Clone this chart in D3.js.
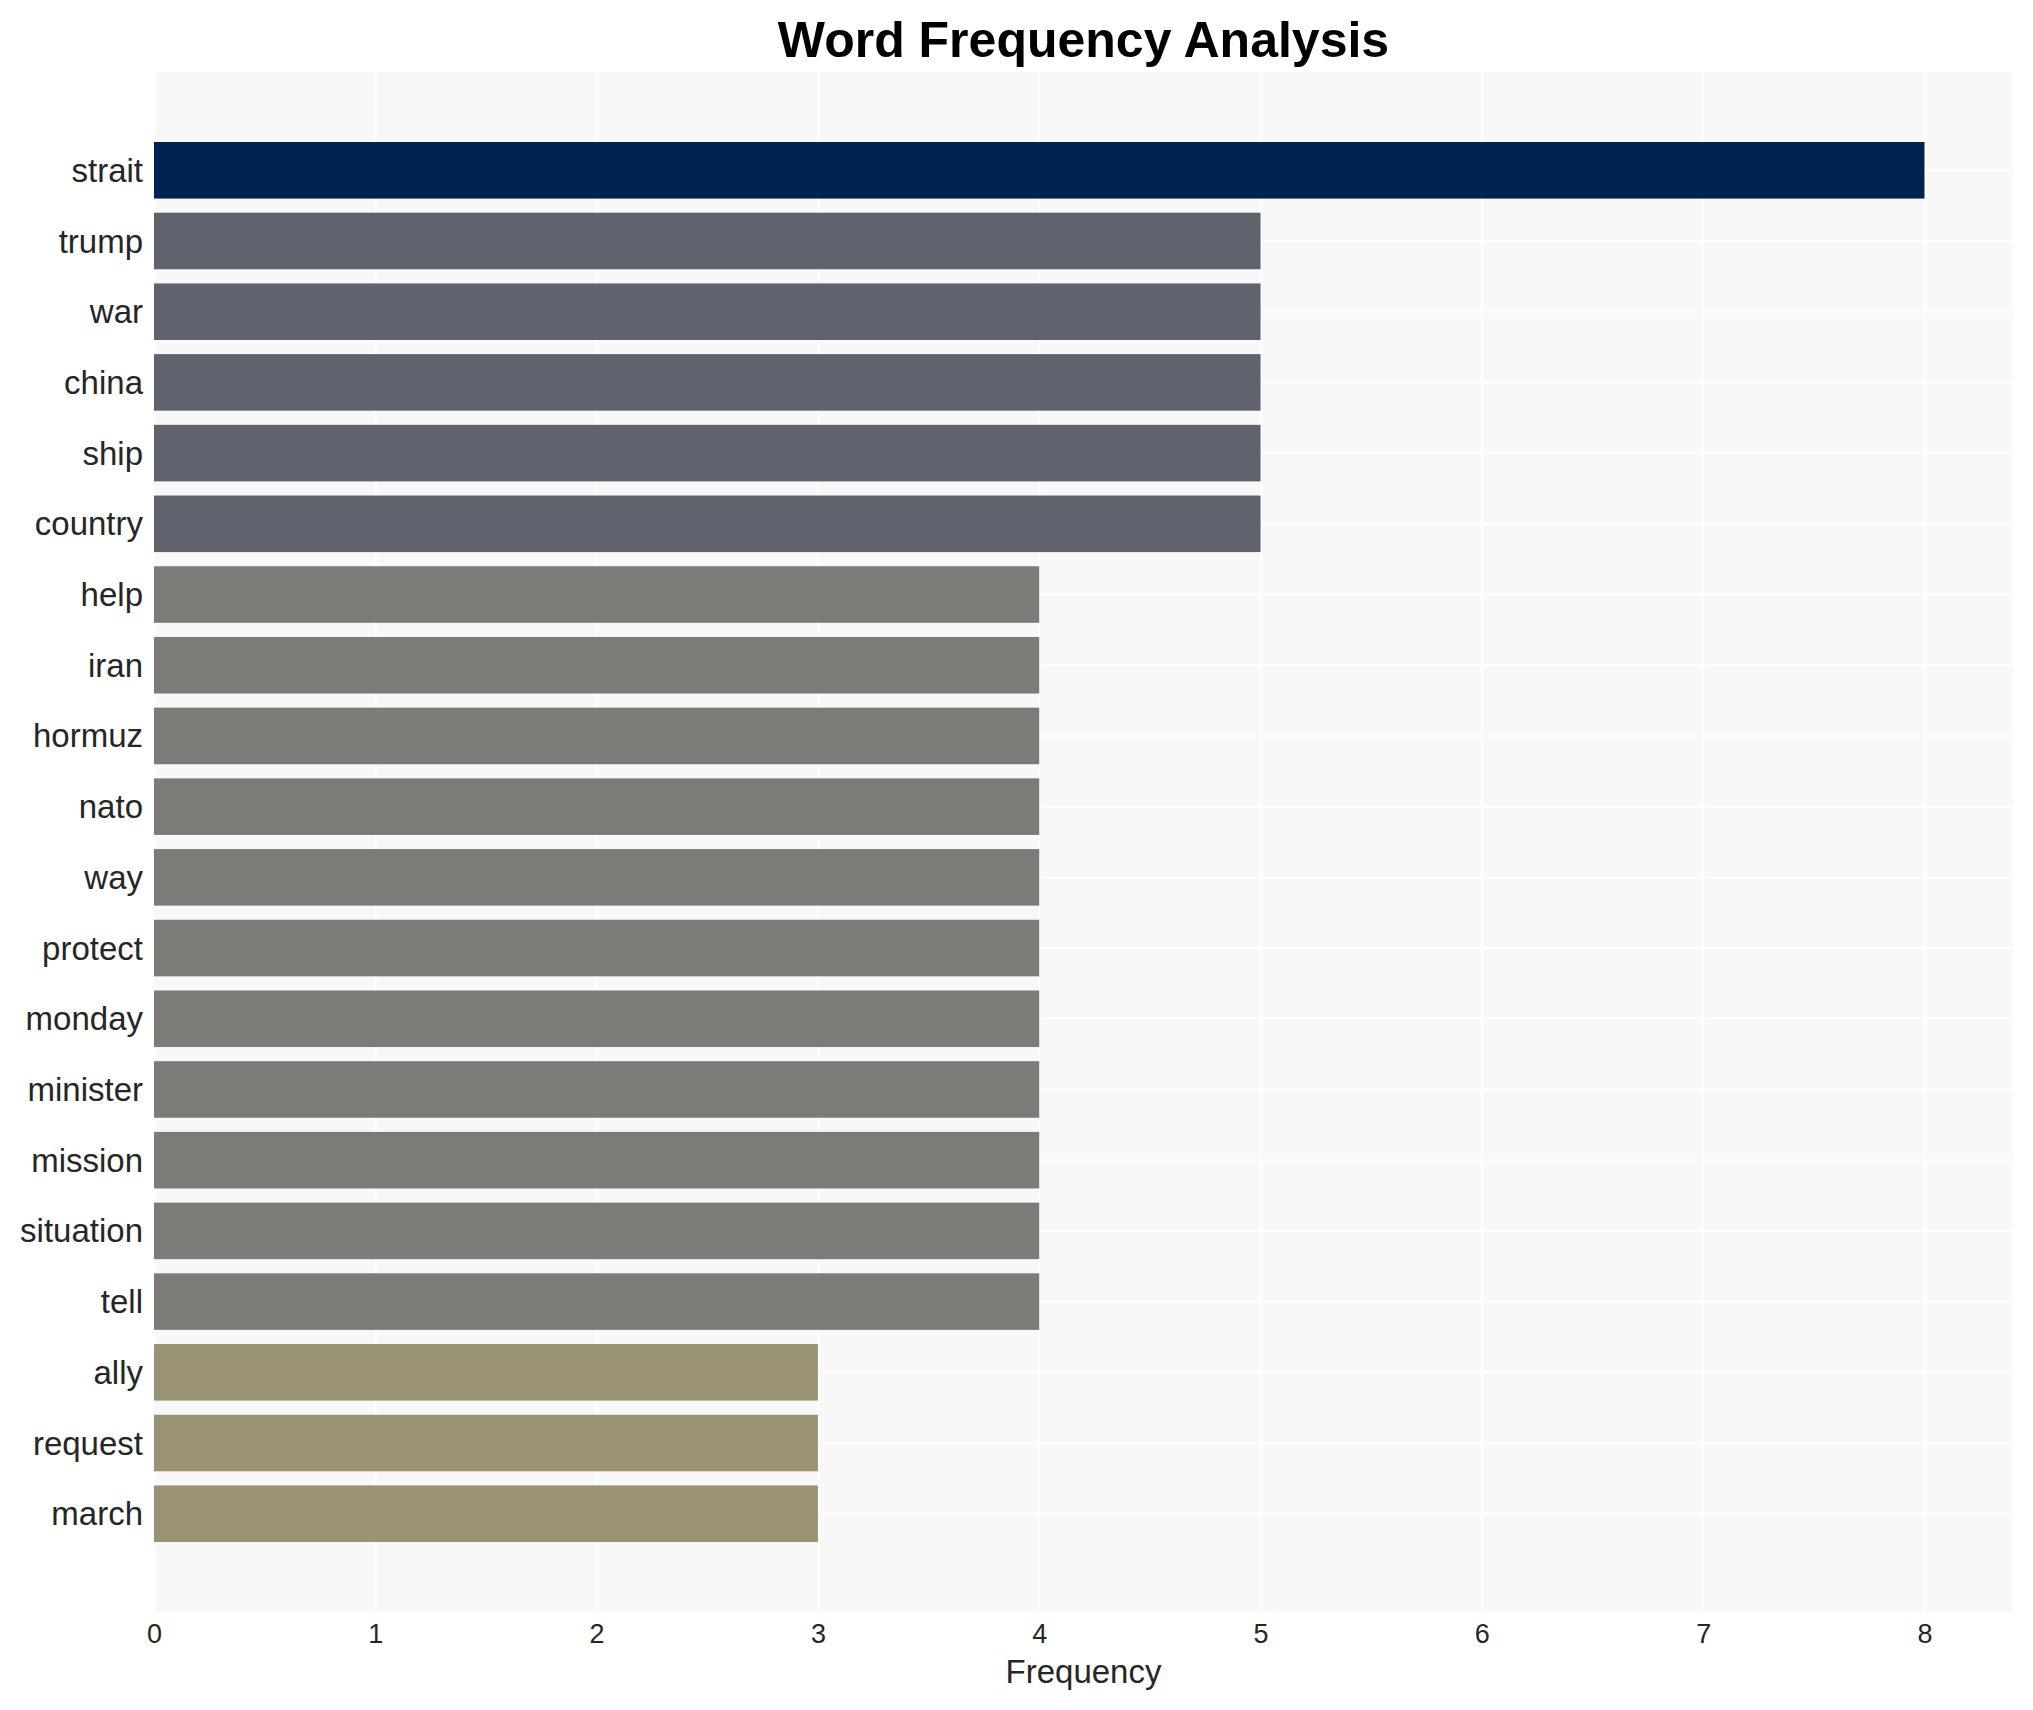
<!DOCTYPE html>
<html>
<head>
<meta charset="utf-8">
<script src="https://cdn.jsdelivr.net/npm/d3@7"></script>
<style>
  body { margin: 0; background: #fff; }
  text { font-family: "Liberation Sans", Arial, sans-serif; }
</style>
</head>
<body>
<div id="chart"></div>
<script>
// Word frequency data
const words = ["strait", "trump", "war", "china", "ship", "country", "help", "iran", "hormuz", "nato",
  "way", "protect", "monday", "minister", "mission", "situation", "tell", "ally", "request", "march"];
const counts = [8, 5, 5, 5, 5, 5, 4, 4, 4, 4, 4, 4, 4, 4, 4, 4, 4, 3, 3, 3];
const xTicks = [0, 1, 2, 3, 4, 5, 6, 7, 8];

const width = 2033;
const height = 1710;
const margin = { top: 72, right: 20, bottom: 98, left: 154 };

const colorByCount = { 8: "#00224e", 5: "#5f636e", 4: "#7c7b78", 3: "#9a9274" };

const svg = d3.select("#chart")
  .append("svg")
  .attr("width", width)
  .attr("height", height);

const x = d3.scaleLinear()
  .domain([0, 8.4])
  .range([margin.left, width - margin.right]);

// category index -> y centre, with matplotlib-like padding
const y = d3.scaleLinear()
  .domain([-1.39, words.length - 1 + 1.39])
  .range([margin.top, height - margin.bottom]);

const step = y(1) - y(0);
const barH = step * 0.8;

// panel background
svg.append("rect")
  .attr("x", margin.left)
  .attr("y", margin.top)
  .attr("width", width - margin.left - margin.right)
  .attr("height", height - margin.top - margin.bottom)
  .attr("fill", "#f8f8f8");

// grid lines
svg.append("g")
  .selectAll("line")
  .data(xTicks)
  .enter()
  .append("line")
  .attr("x1", d => x(d))
  .attr("x2", d => x(d))
  .attr("y1", margin.top)
  .attr("y2", height - margin.bottom)
  .attr("stroke", "#fff")
  .attr("stroke-width", 2);

svg.append("g")
  .selectAll("line")
  .data(words)
  .enter()
  .append("line")
  .attr("x1", margin.left)
  .attr("x2", width - margin.right)
  .attr("y1", (d, i) => y(i))
  .attr("y2", (d, i) => y(i))
  .attr("stroke", "#fff")
  .attr("stroke-width", 2);

// bars
svg.selectAll(".bar")
  .data(words)
  .enter()
  .append("rect")
  .attr("class", "bar")
  .attr("x", x(0))
  .attr("y", (d, i) => y(i) - barH / 2)
  .attr("width", (d, i) => x(counts[i]) - x(0))
  .attr("height", barH)
  .attr("fill", (d, i) => colorByCount[counts[i]]);

// y labels
svg.append("g")
  .selectAll("text")
  .data(words)
  .enter()
  .append("text")
  .attr("x", margin.left - 11)
  .attr("y", (d, i) => y(i))
  .attr("dy", "0.35em")
  .attr("text-anchor", "end")
  .attr("font-size", 33)
  .attr("fill", "#262626")
  .text(d => d);

// x axis
const xAxis = svg.append("g")
  .attr("transform", `translate(0, ${height - margin.bottom})`)
  .call(d3.axisBottom(x).tickValues(xTicks).tickSize(0).tickPadding(12));
xAxis.select(".domain").remove();
xAxis.selectAll("text")
  .attr("font-size", 27)
  .attr("fill", "#262626")
  .style("font-family", "'Liberation Sans', Arial, sans-serif");

svg.append("text")
  .attr("x", (margin.left + width - margin.right) / 2)
  .attr("y", 1683)
  .attr("text-anchor", "middle")
  .attr("font-size", 33)
  .attr("fill", "#262626")
  .text("Frequency");

svg.append("text")
  .attr("x", (margin.left + width - margin.right) / 2)
  .attr("y", 57)
  .attr("text-anchor", "middle")
  .attr("font-size", 50)
  .attr("font-weight", "bold")
  .attr("fill", "#000")
  .text("Word Frequency Analysis");
</script>
</body>
</html>
